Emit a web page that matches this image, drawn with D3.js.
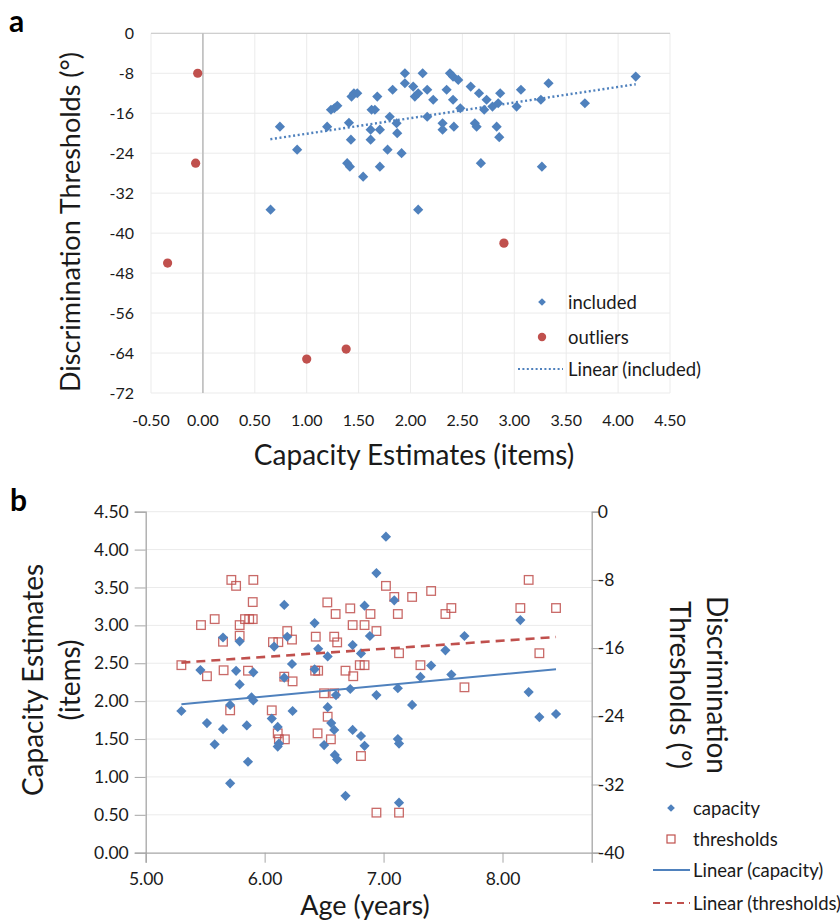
<!DOCTYPE html>
<html><head><meta charset="utf-8">
<script src="https://cdn.jsdelivr.net/npm/d3@7"></script>
<style>body{margin:0;background:#fff}svg{display:block}text{font-family:Lato,"Open Sans",sans-serif}</style>
</head><body><svg id="c" width="840" height="920"></svg>
<script>
// ---------- Panel a data ----------
const includedCap = [0.742,0.908,0.652,1.197,1.234,1.266,1.295,1.407,1.426,1.39,1.416,1.432,1.455,1.487,1.544,1.616,1.616,1.625,1.657,1.68,1.705,1.705,1.779,1.80,1.828,1.866,1.872,1.914,1.946,1.946,2.026,2.042,2.074,2.074,2.117,2.161,2.161,2.219,2.309,2.309,2.348,2.38,2.41,2.41,2.418,2.46,2.48,2.58,2.62,2.637,2.66,2.678,2.71,2.733,2.79,2.83,2.845,2.855,2.864,3.022,3.064,3.256,3.266,3.33,3.68,4.17];
const includedThr = [-18.7,-23.3,-35.3,-18.7,-15.3,-15,-14.5,-17.9,-21.3,-26,-26.7,-12.67,-12,-12,-28.7,-19.3,-21.3,-15.3,-15.3,-12.67,-19.3,-26.7,-23.3,-16.7,-11.3,-18,-20,-24,-8,-10,-10.67,-12.67,-12,-35.3,-8,-11.3,-16.7,-13.3,-18,-19.3,-11.3,-8,-8.67,-13.3,-18.7,-9.33,-15,-10.67,-18,-18.7,-12,-26,-15.3,-13.3,-14.67,-18.7,-14,-20.8,-12,-14.67,-11.3,-13.3,-26.7,-10,-14,-8.67];
const outlierCap = [-0.05,-0.07,-0.34,1.0,1.38,2.9];
const outlierThr = [-8,-26,-46,-65.2,-63.2,-42];
const trendA = [[0.65,-21.2],[4.17,-10.2]];
const xTicksA = [-0.5,0,0.5,1,1.5,2,2.5,3,3.5,4,4.5];
const yTicksA = [0,-8,-16,-24,-32,-40,-48,-56,-64,-72];
const legendA = ["included","outliers","Linear (included)"];

// ---------- Panel b data ----------
const ageCap = [5.30,5.46,5.515,5.58,5.65,5.65,5.71,5.71,5.76,5.79,5.79,5.85,5.86,5.89,5.905,5.905,6.06,6.08,6.11,6.11,6.12,6.165,6.165,6.19,6.23,6.235,6.42,6.42,6.45,6.50,6.53,6.53,6.56,6.585,6.60,6.59,6.61,6.68,6.72,6.74,6.74,6.81,6.81,6.84,6.84,6.885,6.94,6.94,7.02,7.09,7.12,7.12,7.13,7.13,7.24,7.31,7.40,7.52,7.57,7.68,8.15,8.22,8.31,8.45];
const capacity = [1.87,2.41,1.71,1.43,2.84,1.63,1.95,0.915,2.40,2.79,2.22,1.68,1.20,2.05,2.01,2.38,1.77,2.72,1.66,1.40,1.44,3.27,2.31,2.85,2.49,1.87,3.03,2.42,2.69,1.42,2.59,1.92,1.71,1.62,2.08,1.29,1.23,0.75,2.16,2.74,1.62,2.63,1.54,3.26,1.41,2.86,3.69,2.08,4.17,3.33,2.17,1.50,1.44,0.66,1.95,2.32,2.47,2.67,2.35,2.86,3.07,2.12,1.79,1.83];
const ageThr = [5.30,5.465,5.515,5.58,5.65,5.655,5.71,5.72,5.76,5.79,5.79,5.835,5.87,5.90,5.86,5.90,5.905,6.06,6.07,6.115,6.11,6.12,6.17,6.165,6.19,6.23,6.235,6.43,6.425,6.45,6.445,6.50,6.585,6.527,6.53,6.557,6.585,6.597,6.61,6.68,6.72,6.74,6.745,6.80,6.84,6.81,6.84,6.89,6.94,6.94,7.02,7.09,7.12,7.13,7.13,7.24,7.31,7.40,7.52,7.57,7.68,8.15,8.22,8.31,8.45];
const thresholds = [-18.0,-13.3,-19.3,-12.6,-15.25,-18.6,-23.3,-8.0,-8.7,-13.3,-14.55,-12.6,-12.6,-12.6,-18.65,-10.6,-8.0,-23.3,-15.3,-15.3,-26.0,-26.7,-26.7,-19.35,-14.0,-15.0,-19.9,-14.66,-18.65,-18.65,-26.0,-21.3,-21.3,-10.64,-24.05,-26.7,-14.66,-12.0,-15.33,-18.65,-11.34,-13.3,-19.3,-18.0,-18.0,-28.66,-13.3,-12.0,-14.0,-35.3,-8.7,-10.0,-12.0,-16.6,-35.3,-10.0,-18.0,-9.3,-12.0,-11.3,-20.6,-11.3,-8.0,-16.6,-11.3];
const trendCap = [[5.30,1.96],[8.45,2.42]];
const trendThr = [[5.30,-17.7],[8.45,-14.7]];
const xTicksB = [5,6,7,8];
const yTicksBL = [0,0.5,1,1.5,2,2.5,3,3.5,4,4.5];
const yTicksBR = [0,-8,-16,-24,-32,-40];
const legendB = ["capacity","thresholds","Linear (capacity)","Linear (thresholds)"];

const BLUE = "#4F81BD", RED = "#C0504D", GRID = "#ebebeb", AXIS = "#a6a6a6", TXT = "#1a1a1a";
const fmt2 = d => d3.format(".2f")(d).replace("\u2212", "-");
const svg = d3.select("#c");
const diamond = d3.symbol(d3.symbolSquare, 52);
const diamondSmall = d3.symbol(d3.symbolSquare, 30);

// ================= Panel a =================
const xa = d3.scaleLinear().domain([-0.5, 4.5]).range([151, 670]);
const ya = d3.scaleLinear().domain([-72, 0]).range([393, 33.3]);
const ga = svg.append("g");
ga.selectAll(".vg").data(xTicksA).join("line")
  .attr("x1", d => xa(d)).attr("x2", d => xa(d)).attr("y1", ya(0)).attr("y2", ya(-72))
  .attr("stroke", GRID).attr("stroke-width", 1);
ga.selectAll(".hg").data(yTicksA).join("line")
  .attr("x1", xa(-0.5)).attr("x2", xa(4.5)).attr("y1", d => ya(d)).attr("y2", d => ya(d))
  .attr("stroke", GRID).attr("stroke-width", 1);
ga.append("line").attr("x1", xa(-0.5)).attr("x2", xa(4.5)).attr("y1", ya(0)).attr("y2", ya(0)).attr("stroke", "#cfcfcf").attr("stroke-width", 1.3);
ga.append("line").attr("x1", xa(0)).attr("x2", xa(0)).attr("y1", ya(0)).attr("y2", ya(-72)).attr("stroke", "#bdbdbd").attr("stroke-width", 1.6);
ga.selectAll(".xl").data(xTicksA).join("text")
  .attr("x", d => xa(d)).attr("y", 426).attr("text-anchor", "middle")
  .attr("font-size", 16).attr("fill", TXT).text(fmt2);
ga.selectAll(".yl").data(yTicksA).join("text")
  .attr("x", 134).attr("y", d => ya(d) + 5.5).attr("text-anchor", "end")
  .attr("font-size", 16).attr("fill", TXT).text(d => d);
ga.append("path").datum(trendA)
  .attr("d", d3.line().x(d => xa(d[0])).y(d => ya(d[1])))
  .attr("stroke", BLUE).attr("stroke-width", 2.4).attr("stroke-dasharray", "2,2.6").attr("fill", "none");
ga.selectAll(".inc").data(includedCap.map((c, i) => [c, includedThr[i]])).join("path")
  .attr("d", diamond).attr("fill", BLUE)
  .attr("transform", d => `translate(${xa(d[0])},${ya(d[1])}) rotate(45)`);
ga.selectAll(".out").data(outlierCap.map((c, i) => [c, outlierThr[i]])).join("circle")
  .attr("cx", d => xa(d[0])).attr("cy", d => ya(d[1])).attr("r", 4.6).attr("fill", RED);
const lyA = [302, 337, 369];
ga.append("path").attr("d", diamondSmall).attr("fill", BLUE).attr("transform", `translate(542,${lyA[0]}) rotate(45)`);
ga.append("circle").attr("cx", 542).attr("cy", lyA[1]).attr("r", 4.2).attr("fill", RED);
ga.append("line").attr("x1", 518).attr("x2", 563).attr("y1", lyA[2]).attr("y2", lyA[2])
  .attr("stroke", BLUE).attr("stroke-width", 2).attr("stroke-dasharray", "2,2.4");
ga.selectAll(".lga").data(legendA).join("text")
  .attr("x", 568).attr("y", (d, i) => lyA[i] + 6.5).attr("font-size", 18.5).attr("fill", TXT).text(d => d);
ga.append("text").attr("x", 414).attr("y", 465).attr("text-anchor", "middle").attr("font-size", 28).attr("fill", TXT).text("Capacity Estimates (items)");
ga.append("text").attr("transform", "translate(80,222) rotate(-90)").attr("text-anchor", "middle").attr("font-size", 27).attr("fill", TXT).text("Discrimination Thresholds (°)");
ga.append("text").attr("x", 9).attr("y", 32).attr("font-family", "Liberation Sans, Arial, sans-serif").attr("font-weight", "bold").attr("font-size", 30).attr("fill", "#000").text("a");

// ================= Panel b =================
const xb = d3.scaleLinear().domain([5, 8.75]).range([145.7, 591.7]);
const yL = d3.scaleLinear().domain([0, 4.5]).range([852.7, 511.7]);
const yR = d3.scaleLinear().domain([-40, 0]).range([852.7, 511.7]);
const gb = svg.append("g");
gb.selectAll(".hgb").data(yTicksBL.slice(1)).join("line")
  .attr("x1", xb(5)).attr("x2", xb(8.75)).attr("y1", d => yL(d)).attr("y2", d => yL(d))
  .attr("stroke", GRID).attr("stroke-width", 1);
const styleAxis = (g, attr, v) => {
  g.select(".domain").attr("stroke", AXIS).attr("stroke-width", 1.3);
  g.selectAll(".tick line").attr("stroke", AXIS);
  g.selectAll("text").attr("font-size", 17.5).attr("fill", TXT).attr("font-family", "Lato, sans-serif").attr(attr, v);
};
gb.append("g").attr("transform", `translate(${xb(5)},0)`)
  .call(d3.axisLeft(yL).tickValues(yTicksBL).tickSize(11).tickFormat(fmt2))
  .call(g => styleAxis(g, "x", -17));
gb.append("g").attr("transform", `translate(${xb(8.75)},0)`)
  .call(d3.axisRight(yR).tickValues(yTicksBR).tickSize(8).tickFormat(d => d))
  .call(g => styleAxis(g, "x", 6));
gb.append("g").attr("transform", `translate(0,${yL(0)})`)
  .call(d3.axisBottom(xb).tickValues(xTicksB).tickSize(10).tickFormat(fmt2))
  .call(g => styleAxis(g, "y", 20));
gb.selectAll(".thr").data(ageThr.map((a, i) => [a, thresholds[i]])).join("rect")
  .attr("x", d => xb(d[0]) - 4.3).attr("y", d => yR(d[1]) - 4.3).attr("width", 8.6).attr("height", 8.6)
  .attr("fill", "none").attr("stroke", RED).attr("stroke-width", 1.3).attr("stroke-opacity", 0.85);
gb.selectAll(".cap").data(ageCap.map((a, i) => [a, capacity[i]])).join("path")
  .attr("d", diamond).attr("fill", BLUE)
  .attr("transform", d => `translate(${xb(d[0])},${yL(d[1])}) rotate(45)`);
gb.append("path").datum(trendThr).attr("d", d3.line().x(d => xb(d[0])).y(d => yR(d[1])))
  .attr("stroke", RED).attr("stroke-width", 2.6).attr("stroke-dasharray", "9,6").attr("fill", "none");
gb.append("path").datum(trendCap).attr("d", d3.line().x(d => xb(d[0])).y(d => yL(d[1])))
  .attr("stroke", BLUE).attr("stroke-width", 2).attr("fill", "none");
const lyB = [808, 839, 870, 903];
gb.append("path").attr("d", diamondSmall).attr("fill", BLUE).attr("transform", `translate(671,${lyB[0]}) rotate(45)`);
gb.append("rect").attr("x", 667).attr("y", lyB[1] - 4).attr("width", 8).attr("height", 8).attr("fill", "none").attr("stroke", RED).attr("stroke-width", 1.2);
gb.append("line").attr("x1", 653).attr("x2", 690).attr("y1", lyB[2]).attr("y2", lyB[2]).attr("stroke", BLUE).attr("stroke-width", 2);
gb.append("line").attr("x1", 653).attr("x2", 690).attr("y1", lyB[3]).attr("y2", lyB[3]).attr("stroke", RED).attr("stroke-width", 2.2).attr("stroke-dasharray", "7,5");
gb.selectAll(".lgb").data(legendB).join("text")
  .attr("x", 693).attr("y", (d, i) => lyB[i] + 6.5).attr("font-size", 18.5).attr("fill", TXT).text(d => d);
gb.append("text").attr("transform", "translate(0,680) rotate(-90)").attr("text-anchor", "middle").attr("font-size", 28).attr("fill", TXT)
  .call(t => { t.append("tspan").attr("x", 0).attr("y", 43).text("Capacity Estimates"); t.append("tspan").attr("x", 0).attr("y", 80).text("(items)"); });
gb.append("text").attr("transform", "translate(0,685) rotate(90)").attr("text-anchor", "middle").attr("font-size", 28).attr("fill", TXT)
  .call(t => { t.append("tspan").attr("x", 0).attr("y", -707).text("Discrimination"); t.append("tspan").attr("x", 0).attr("y", -670).text("Thresholds (°)"); });
gb.append("text").attr("x", 365).attr("y", 915).attr("text-anchor", "middle").attr("font-size", 27).attr("fill", TXT).text("Age (years)");
gb.append("text").attr("x", 10).attr("y", 511).attr("font-family", "Liberation Sans, Arial, sans-serif").attr("font-weight", "bold").attr("font-size", 30).attr("fill", "#000").text("b");
</script></body></html>
